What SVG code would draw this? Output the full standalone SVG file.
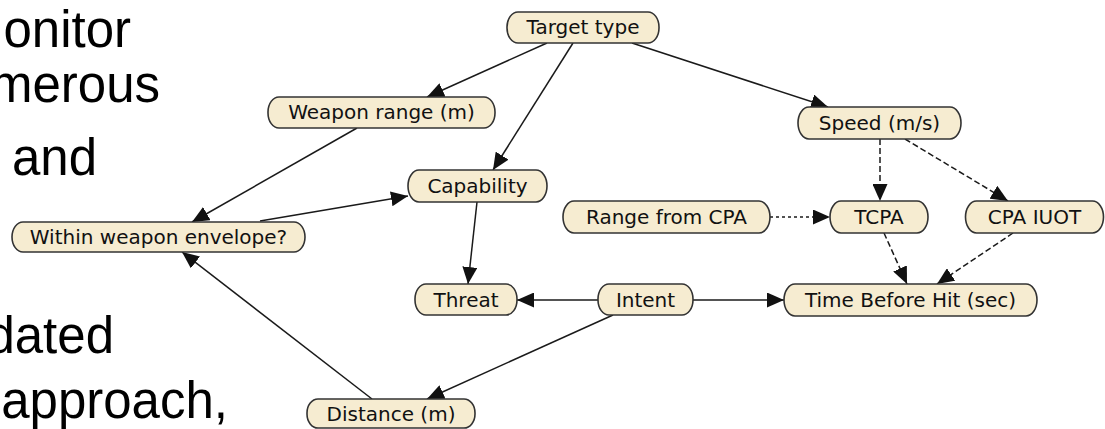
<svg xmlns="http://www.w3.org/2000/svg" width="1105" height="429" viewBox="0 0 1105 429">
  <style>
    .slide { font-family: "Liberation Sans", Arial, sans-serif; font-size: 51px; fill: #000; text-anchor: end; }
    .node rect { fill: #f6ecd1; stroke: #333; stroke-width: 1.6; }
    .node text { font-family: "DejaVu Sans", Verdana, sans-serif; font-size: 20px; fill: #111; text-anchor: middle; }
    .edge { stroke: #1a1a1a; stroke-width: 1.5; fill: none; marker-end: url(#head); }
    .dashed { stroke-dasharray: 6 3; }
    .dotted { stroke-dasharray: 3 3; }
  </style>
  <defs>
    <marker id="head" markerUnits="userSpaceOnUse" markerWidth="17" markerHeight="15" refX="17" refY="7.5" orient="auto">
      <path d="M0,0 L17,7.5 L0,15 z" fill="#111"/>
    </marker>
  </defs>
  <rect width="1105" height="429" fill="#fff"/>

  <!-- slide body text running behind the network -->
  <g id="slide-text">
    <text class="slide" x="131" y="47">onitor</text>
    <text class="slide" x="160" y="102">merous</text>
    <text class="slide" x="97" y="175">and</text>
    <text class="slide" x="114" y="353">dated</text>
    <text class="slide" x="228" y="418">approach,</text>
  </g>

  <g id="connectors">
    <line class="edge" x1="547" y1="43" x2="427" y2="97"/>
    <line class="edge" x1="573" y1="43" x2="493" y2="170"/>
    <line class="edge" x1="632" y1="43" x2="828" y2="107"/>
    <line class="edge" x1="357" y1="128" x2="192" y2="222"/>
    <line class="edge" x1="260" y1="221" x2="408" y2="196"/>
    <line class="edge" x1="477" y1="202" x2="468" y2="284"/>
    <line class="edge" x1="598" y1="300" x2="517" y2="300"/>
    <line class="edge" x1="693" y1="300" x2="784" y2="300"/>
    <line class="edge" x1="613" y1="315" x2="427" y2="399"/>
    <line class="edge" x1="372" y1="399" x2="182" y2="252"/>
    <line class="edge dashed" x1="880" y1="139" x2="880" y2="201"/>
    <line class="edge dashed" x1="905" y1="139" x2="1008" y2="201"/>
    <line class="edge dotted" x1="770" y1="217" x2="830" y2="217"/>
    <line class="edge dashed" x1="884" y1="233" x2="907" y2="284"/>
    <line class="edge dashed" x1="1013" y1="233" x2="937" y2="284"/>
  </g>

  <g id="target-type" class="node"><rect x="507" y="12" width="152" height="31" rx="11" ry="15"/><text x="583" y="34">Target type</text></g>
  <g id="weapon-range" class="node"><rect x="268" y="97" width="227" height="31" rx="11" ry="15"/><text x="381.5" y="119">Weapon range (m)</text></g>
  <g id="speed" class="node"><rect x="798" y="107" width="163" height="32" rx="11" ry="16"/><text x="879.5" y="130">Speed (m/s)</text></g>
  <g id="capability" class="node"><rect x="408" y="170" width="139" height="32" rx="11" ry="16"/><text x="477.5" y="193">Capability</text></g>
  <g id="within-envelope" class="node"><rect x="12" y="222" width="293" height="30" rx="11" ry="15"/><text x="158.5" y="244">Within weapon envelope?</text></g>
  <g id="range-from-cpa" class="node"><rect x="563" y="201" width="207" height="32" rx="11" ry="16"/><text x="666.5" y="224">Range from CPA</text></g>
  <g id="tcpa" class="node"><rect x="830" y="201" width="98" height="32" rx="11" ry="16"/><text x="879" y="224">TCPA</text></g>
  <g id="cpa-iuot" class="node"><rect x="965.5" y="201" width="138" height="32" rx="11" ry="16"/><text x="1034.5" y="224">CPA IUOT</text></g>
  <g id="threat" class="node"><rect x="415" y="284" width="102" height="31" rx="11" ry="15"/><text x="466" y="306.5">Threat</text></g>
  <g id="intent" class="node"><rect x="598" y="284" width="95" height="31" rx="11" ry="15"/><text x="645.5" y="306.5">Intent</text></g>
  <g id="time-before-hit" class="node"><rect x="784" y="284" width="253" height="32" rx="11" ry="16"/><text x="910.5" y="307">Time Before Hit (sec)</text></g>
  <g id="distance" class="node"><rect x="307" y="399" width="168" height="29" rx="11" ry="14"/><text x="391" y="420.5">Distance (m)</text></g>
</svg>
